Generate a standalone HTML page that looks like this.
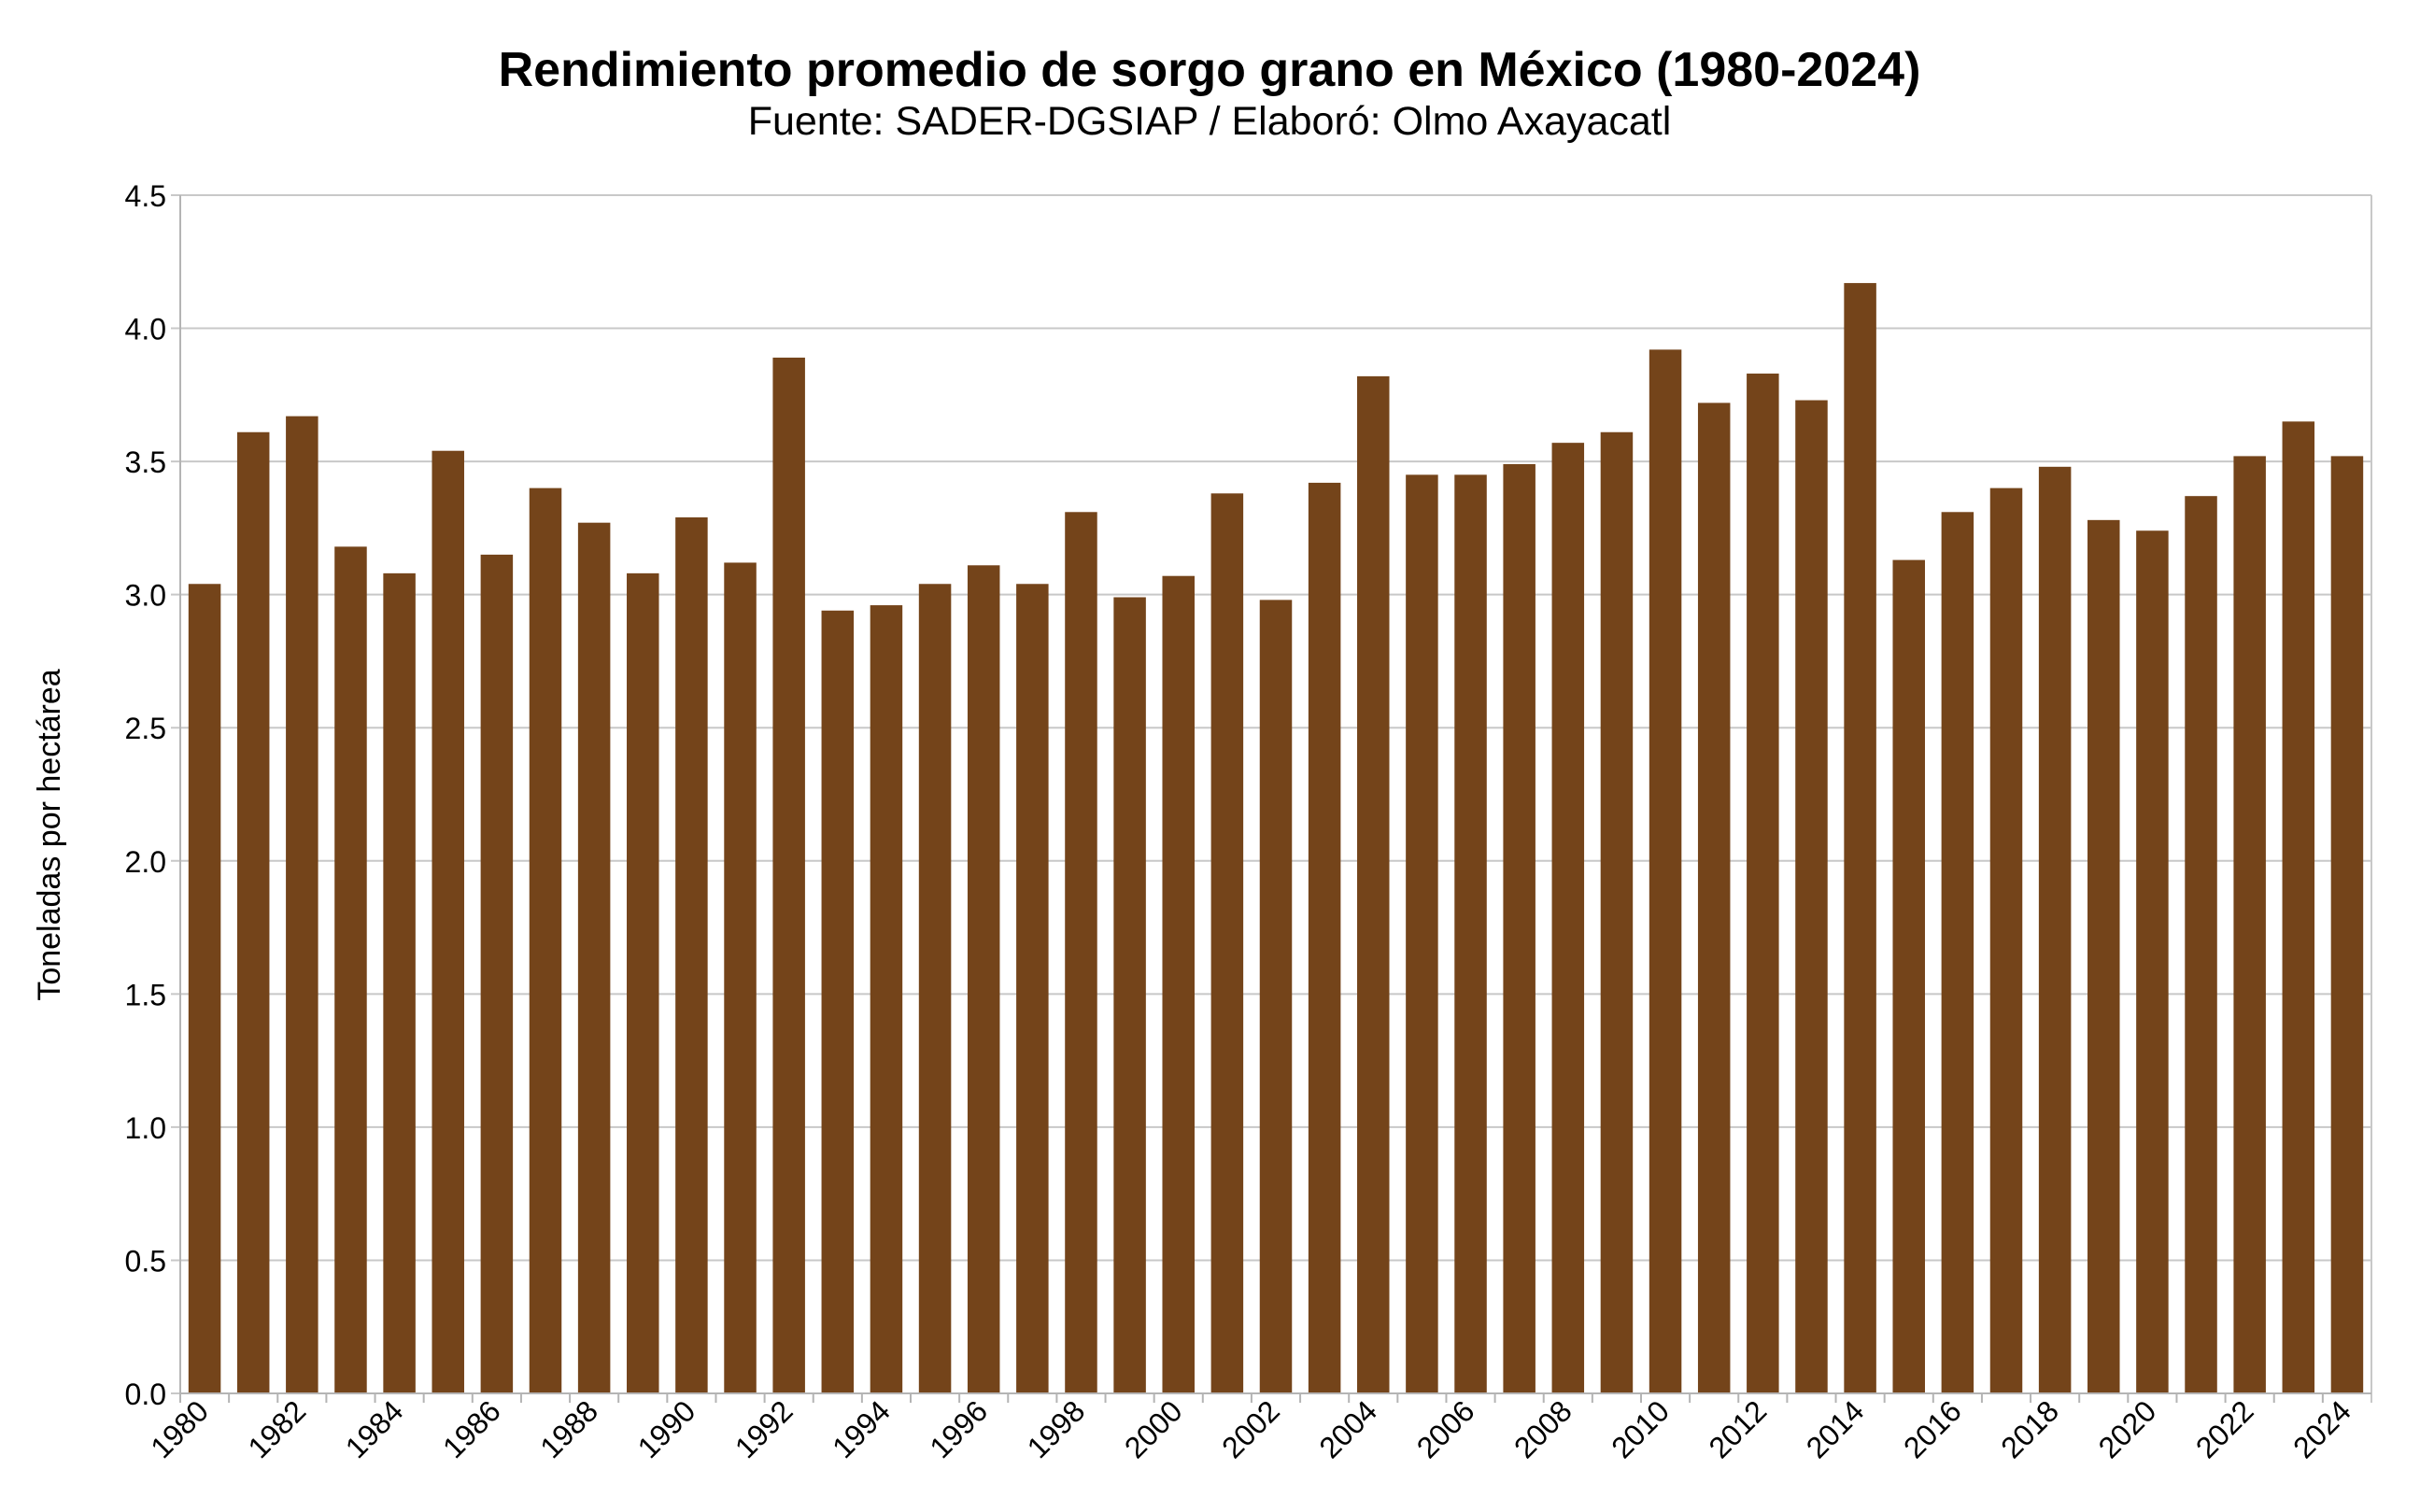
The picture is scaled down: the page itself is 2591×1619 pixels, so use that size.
<!DOCTYPE html>
<html><head><meta charset="utf-8"><style>
html,body{margin:0;padding:0;background:#fff;}
svg{display:block;font-family:"Liberation Sans",Arial,sans-serif;}
</style></head><body>
<svg id="c" width="2591" height="1619" xmlns="http://www.w3.org/2000/svg">
<rect width="2591" height="1619" fill="#fff"/>
<text x="1295" y="92" text-anchor="middle" font-size="52" font-weight="bold">Rendimiento promedio de sorgo grano en México (1980-2024)</text>
<text x="1295" y="144" text-anchor="middle" font-size="43">Fuente: SADER-DGSIAP / Elaboró: Olmo Axayacatl</text>
<text transform="translate(64,894) rotate(-90)" text-anchor="middle" font-size="34">Toneladas por hectárea</text>
<g id="g"></g>
</svg>
<script>
var v=[3.04,3.61,3.67,3.18,3.08,3.54,3.15,3.40,3.27,3.08,3.29,3.12,3.89,2.94,2.96,3.04,3.11,3.04,3.31,2.99,3.07,3.38,2.98,3.42,3.82,3.45,3.45,3.49,3.57,3.61,3.92,3.72,3.83,3.73,4.17,3.13,3.31,3.40,3.48,3.28,3.24,3.37,3.52,3.65,3.52];
var L=193,R=2539,T=209,B=1492,H=B-T,n=45,cw=(R-L)/n,s='';
for(var i=0;i<=9;i++){var y=B-H*i/9;
s+='<line x1="'+(L-10)+'" x2="'+R+'" y1="'+y+'" y2="'+y+'" stroke="#c8c8c8" stroke-width="2"/>';
s+='<text x="178" y="'+(y+12)+'" text-anchor="end" font-size="32">'+(i*0.5).toFixed(1)+'</text>';}
s+='<line x1="'+L+'" x2="'+L+'" y1="'+T+'" y2="'+(B+10)+'" stroke="#b4b4b4" stroke-width="2"/>';
s+='<line x1="'+R+'" x2="'+R+'" y1="'+T+'" y2="'+(B+10)+'" stroke="#c8c8c8" stroke-width="2"/>';
for(var i=0;i<n;i++){var x=L+i*cw,bw=34.5,h=H*v[i]/4.5;
s+='<rect x="'+(x+(cw-bw)/2)+'" y="'+(B-h)+'" width="'+bw+'" height="'+h+'" fill="#74441a"/>';
s+='<line x1="'+x+'" x2="'+x+'" y1="'+B+'" y2="'+(B+10)+'" stroke="#b4b4b4" stroke-width="2"/>';
if(i%2==0){var cx=x+cw/2+6;s+='<text transform="translate('+cx+',1513) rotate(-45)" text-anchor="end" font-size="32">'+(1980+i)+'</text>';}}
s+='<line x1="'+L+'" x2="'+R+'" y1="'+B+'" y2="'+B+'" stroke="#b4b4b4" stroke-width="2"/>';
document.getElementById('g').innerHTML=s;
</script>
</body></html>
